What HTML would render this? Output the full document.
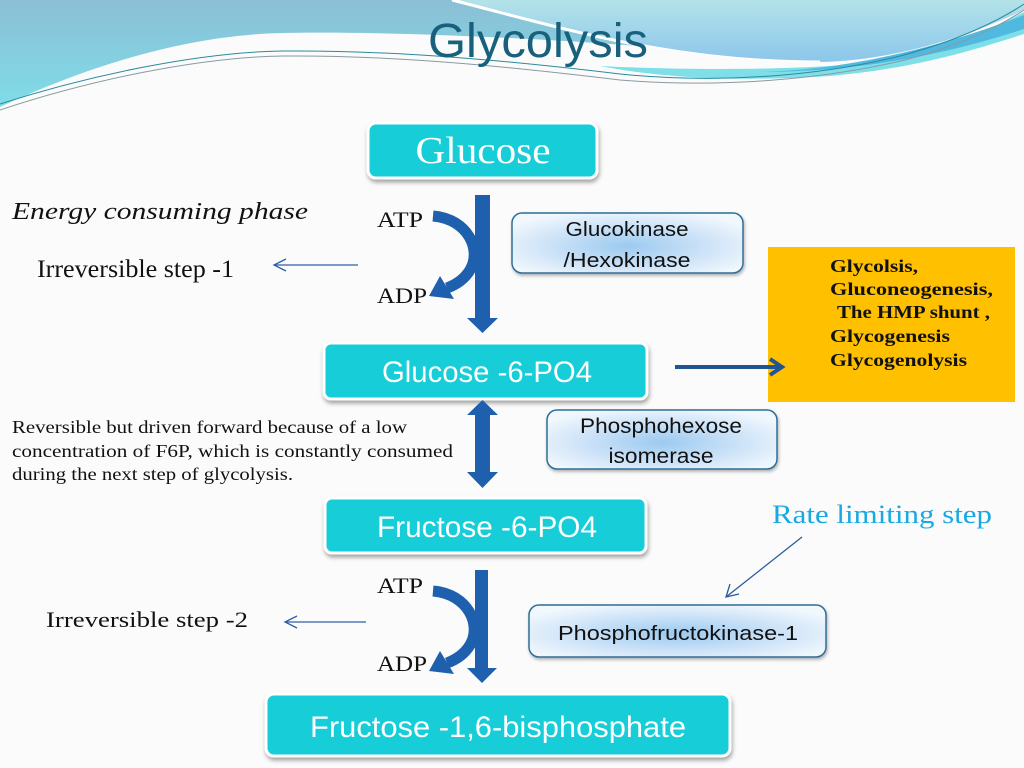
<!DOCTYPE html>
<html>
<head>
<meta charset="utf-8">
<style>
  html,body{margin:0;padding:0;background:#fbfbfb;}
  svg{display:block;}
  .serif{font-family:"Liberation Serif","DejaVu Serif",serif;}
  .sans{font-family:"Liberation Sans","DejaVu Sans",sans-serif;}
</style>
</head>
<body>
<svg width="1024" height="768" viewBox="0 0 1024 768" xmlns="http://www.w3.org/2000/svg">
  <defs>
    <linearGradient id="hdrL" x1="0" y1="0" x2="0" y2="1">
      <stop offset="0" stop-color="#8bbfd6"/>
      <stop offset="1" stop-color="#7de3ec"/>
    </linearGradient>
    <linearGradient id="hdrA" x1="0" y1="0" x2="0" y2="1">
      <stop offset="0" stop-color="#b3e3e9"/>
      <stop offset="1" stop-color="#8cc6ea"/>
    </linearGradient>
    <radialGradient id="enz" cx="0.5" cy="0.55" r="0.6">
      <stop offset="0" stop-color="#9ccaf0"/>
      <stop offset="0.6" stop-color="#cfe4f8"/>
      <stop offset="1" stop-color="#f0f7fd"/>
    </radialGradient>
    <filter id="sh" x="-10%" y="-20%" width="125%" height="150%">
      <feDropShadow dx="1" dy="3" stdDeviation="2" flood-color="#000" flood-opacity="0.35"/>
    </filter>
    <filter id="sh2" x="-10%" y="-20%" width="125%" height="150%">
      <feDropShadow dx="1" dy="2" stdDeviation="1.5" flood-color="#000" flood-opacity="0.3"/>
    </filter>
  </defs>

  <!-- background -->
  <rect x="0" y="0" width="1024" height="768" fill="#fbfbfb"/>

  <!-- header -->
  <rect x="0" y="0" width="1024" height="130" fill="url(#hdrL)"/>
  <path d="M452,0 C500,12 580,35 650,47 C700,56 760,62 820,62 C900,60 970,35 1024,10 L1024,0 Z" fill="url(#hdrA)"/>
  <path d="M452,0 C500,12 580,35 650,47 C700,56 760,62 820,62" fill="none" stroke="#ffffff" stroke-width="3"/>
  <!-- white main area -->
  <path d="M0,107 C80,70 180,35 283,33 C380,31 540,38 650,47 C700,56 760,62 820,62 C900,60 970,35 1024,10 L1024,768 L0,768 Z" fill="#fbfbfb"/>
  <!-- cyan band -->
  <path d="M600,66 C680,70 760,70 830,66 C920,60 980,35 1024,12 L1024,34 C980,48 920,68 830,76 C740,82 660,78 600,66 Z" fill="#7edfe9"/>
  <path d="M760,72 C860,70 960,40 1024,15 L1024,29 C960,50 870,72 760,72 Z" fill="#4fb9df"/>
  <!-- thin lines -->
  <path d="M0,104 C90,75 200,52 283,51 C400,50 520,62 620,74 C720,84 820,76 900,56 C960,40 1000,20 1024,4" fill="none" stroke="#2a8a9e" stroke-width="1"/>
  <path d="M0,110 C90,80 200,57 283,56 C400,55 520,68 620,80 C720,88 820,80 905,60 C965,44 1000,26 1024,10" fill="none" stroke="#8a9aa2" stroke-width="1"/>

  <!-- title -->
  <text x="538" y="57" text-anchor="middle" class="sans" font-size="48" fill="#18607c" textLength="220" lengthAdjust="spacingAndGlyphs">Glycolysis</text>

  <!-- Glucose box -->
  <rect x="368" y="123" width="229" height="55" rx="8" fill="#13cdd8" stroke="#ffffff" stroke-width="3" filter="url(#sh)"/>
  <text x="483" y="163" text-anchor="middle" class="serif" font-size="38" fill="#ffffff" textLength="135" lengthAdjust="spacingAndGlyphs">Glucose</text>

  <!-- left texts -->
  <text x="12" y="219" class="serif" font-style="italic" font-size="24" fill="#111" textLength="296" lengthAdjust="spacingAndGlyphs">Energy consuming phase</text>
  <text x="37" y="277" class="serif" font-size="25" fill="#111" textLength="197" lengthAdjust="spacingAndGlyphs">Irreversible step -1</text>
  <g stroke="#2f5fa8" stroke-width="1.3" fill="none">
    <line x1="358" y1="265" x2="274" y2="265"/>
    <polyline points="286,259 274,265 286,271"/>
  </g>

  <!-- ATP/ADP 1 -->
  <text x="377" y="227" class="serif" font-size="22" fill="#111" textLength="46" lengthAdjust="spacingAndGlyphs">ATP</text>
  <text x="377" y="303" class="serif" font-size="22" fill="#111" textLength="50" lengthAdjust="spacingAndGlyphs">ADP</text>

  <!-- down arrow 1 -->
  <polygon points="475,195 490,195 490,318 498,318 482.5,333 467,318 475,318" fill="#1e60ad"/>
  <!-- curved arrow 1 -->
  <path d="M433,216 C468,219 482,250 470,270 C464,280 455,285 447,288" fill="none" stroke="#1e60ad" stroke-width="11"/>
  <polygon points="429,296 440,276 454,299" fill="#1e60ad"/>

  <!-- Glucokinase -->
  <rect x="512" y="213" width="231" height="60" rx="10" fill="url(#enz)" stroke="#2e6e96" stroke-width="1.5" filter="url(#sh2)"/>
  <text x="627" y="236" text-anchor="middle" class="sans" font-size="20" fill="#111" textLength="123" lengthAdjust="spacingAndGlyphs">Glucokinase</text>
  <text x="627" y="267" text-anchor="middle" class="sans" font-size="20" fill="#111" textLength="127" lengthAdjust="spacingAndGlyphs">/Hexokinase</text>

  <!-- Orange box -->
  <rect x="768" y="247" width="247" height="155" fill="#ffc000"/>
  <g class="serif" font-weight="bold" font-size="18" fill="#111">
    <text x="830" y="272" textLength="88" lengthAdjust="spacingAndGlyphs">Glycolsis,</text>
    <text x="830" y="295" textLength="163" lengthAdjust="spacingAndGlyphs">Gluconeogenesis,</text>
    <text x="837" y="318" textLength="153" lengthAdjust="spacingAndGlyphs">The HMP shunt ,</text>
    <text x="830" y="342" textLength="120" lengthAdjust="spacingAndGlyphs">Glycogenesis</text>
    <text x="830" y="366" textLength="137" lengthAdjust="spacingAndGlyphs">Glycogenolysis</text>
  </g>

  <!-- G6P box -->
  <rect x="324" y="343" width="323" height="56" rx="7" fill="#13cdd8" stroke="#ffffff" stroke-width="3" filter="url(#sh)"/>
  <text x="487" y="382" text-anchor="middle" class="sans" font-size="30" fill="#ffffff" textLength="210" lengthAdjust="spacingAndGlyphs">Glucose -6-PO4</text>

  <!-- right arrow -->
  <g stroke="#1f5592" stroke-width="4" fill="none">
    <line x1="675" y1="367" x2="781" y2="367"/>
    <polyline points="770,359 782,367 770,375"/>
  </g>

  <!-- reversible text -->
  <g class="serif" font-size="18" fill="#111">
    <text x="12" y="433" textLength="395" lengthAdjust="spacingAndGlyphs">Reversible but driven forward because of a low</text>
    <text x="12" y="457" textLength="441" lengthAdjust="spacingAndGlyphs">concentration of F6P, which is constantly consumed</text>
    <text x="12" y="480" textLength="281" lengthAdjust="spacingAndGlyphs">during the next step of glycolysis.</text>
  </g>

  <!-- double arrow -->
  <polygon points="482.5,400 498,415 490,415 490,472 498,472 482.5,488 467,472 475,472 475,415 467,415" fill="#1e60ad"/>

  <!-- Phosphohexose isomerase -->
  <rect x="547" y="410" width="230" height="59" rx="10" fill="url(#enz)" stroke="#2e6e96" stroke-width="1.5" filter="url(#sh2)"/>
  <text x="661" y="433" text-anchor="middle" class="sans" font-size="21" fill="#111" textLength="162" lengthAdjust="spacingAndGlyphs">Phosphohexose</text>
  <text x="661" y="463" text-anchor="middle" class="sans" font-size="21" fill="#111" textLength="105" lengthAdjust="spacingAndGlyphs">isomerase</text>

  <!-- F6P box -->
  <rect x="325" y="498" width="321" height="55" rx="7" fill="#13cdd8" stroke="#ffffff" stroke-width="3" filter="url(#sh)"/>
  <text x="487" y="537" text-anchor="middle" class="sans" font-size="30" fill="#ffffff" textLength="220" lengthAdjust="spacingAndGlyphs">Fructose -6-PO4</text>

  <!-- Rate limiting step -->
  <text x="772" y="523" class="serif" font-size="26" fill="#18a9e2" textLength="220" lengthAdjust="spacingAndGlyphs">Rate  limiting step</text>
  <g stroke="#2a5c9a" stroke-width="1.3" fill="none">
    <line x1="802" y1="537" x2="726" y2="597"/>
    <polyline points="730,584 726,597 739,594"/>
  </g>

  <!-- ATP/ADP 2 -->
  <text x="377" y="593" class="serif" font-size="22" fill="#111" textLength="46" lengthAdjust="spacingAndGlyphs">ATP</text>
  <text x="377" y="671" class="serif" font-size="22" fill="#111" textLength="50" lengthAdjust="spacingAndGlyphs">ADP</text>

  <!-- Irreversible step -2 -->
  <text x="46" y="627" class="serif" font-size="22" fill="#111" textLength="202" lengthAdjust="spacingAndGlyphs">Irreversible step -2</text>
  <g stroke="#2f5fa8" stroke-width="1.3" fill="none">
    <line x1="366" y1="622" x2="285" y2="622"/>
    <polyline points="297,616 285,622 297,628"/>
  </g>

  <!-- down arrow 2 -->
  <polygon points="475,570 488,570 488,668 497,668 482,683 467,668 475,668" fill="#1e60ad"/>
  <!-- curved arrow 2 -->
  <path d="M433,591 C468,594 482,625 470,645 C464,655 455,660 447,663" fill="none" stroke="#1e60ad" stroke-width="11"/>
  <polygon points="429,671 440,651 454,674" fill="#1e60ad"/>

  <!-- PFK-1 -->
  <rect x="529" y="605" width="297" height="52" rx="10" fill="url(#enz)" stroke="#2e6e96" stroke-width="1.5" filter="url(#sh2)"/>
  <text x="678" y="640" text-anchor="middle" class="sans" font-size="20" fill="#111" textLength="240" lengthAdjust="spacingAndGlyphs">Phosphofructokinase-1</text>

  <!-- F16BP box -->
  <rect x="266" y="694" width="464" height="62" rx="8" fill="#13cdd8" stroke="#ffffff" stroke-width="3" filter="url(#sh)"/>
  <text x="498" y="737" text-anchor="middle" class="sans" font-size="30" fill="#ffffff" textLength="376" lengthAdjust="spacingAndGlyphs">Fructose -1,6-bisphosphate</text>
</svg>
</body>
</html>
